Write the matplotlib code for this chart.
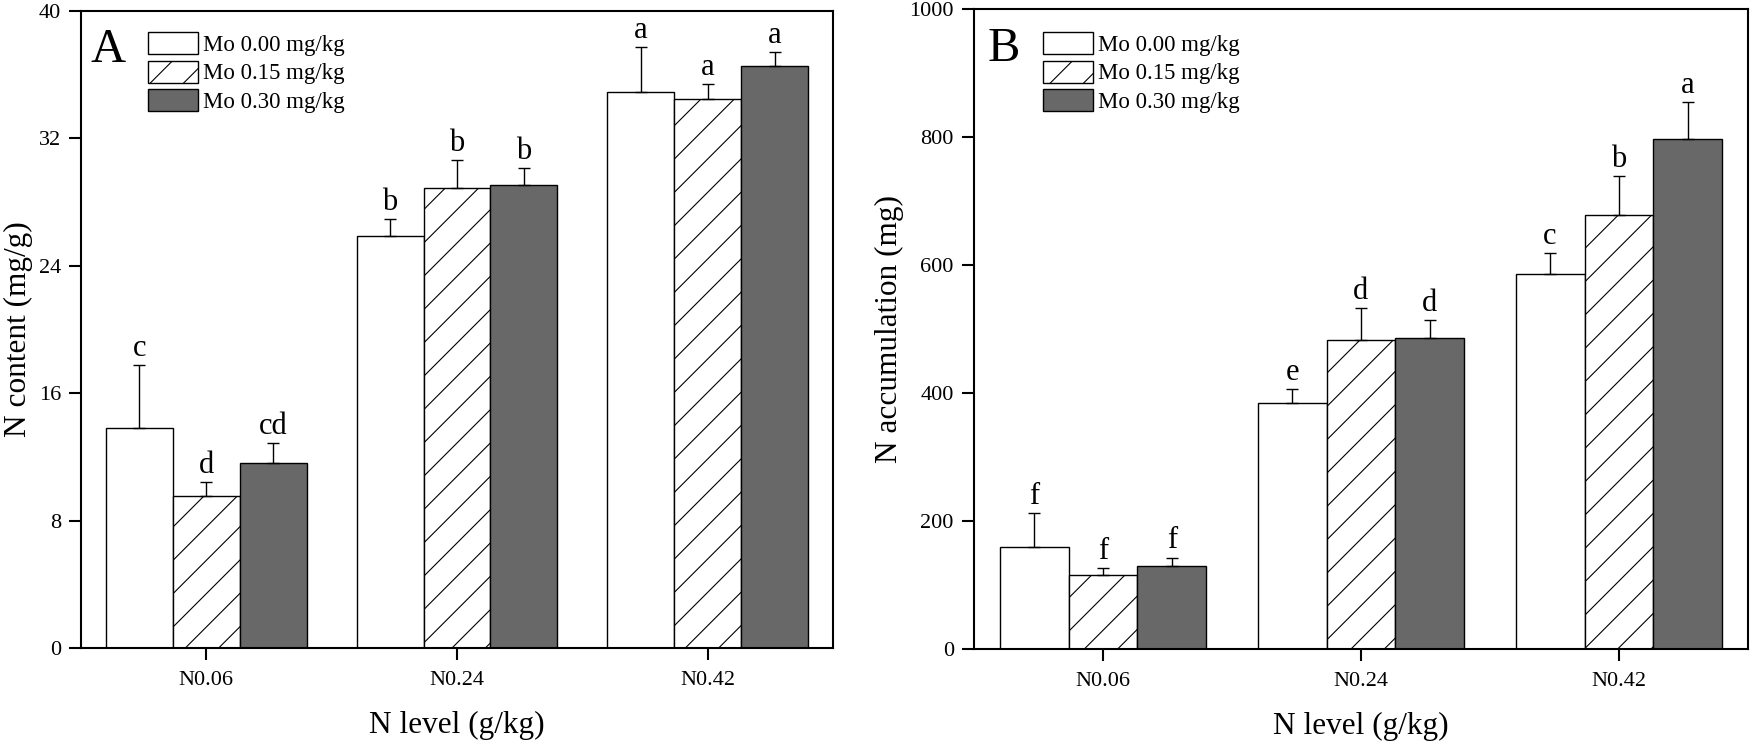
import matplotlib
matplotlib.use("Agg")
import matplotlib.pyplot as plt
import numpy as np

plt.rcParams['font.family'] = ['Liberation Serif', 'DejaVu Serif']
plt.rcParams['hatch.linewidth'] = 0.8
plt.rcParams['mathtext.fontset'] = 'stix'

categories = ["N0.06", "N0.24", "N0.42"]
series = ["Mo 0.00 mg/kg", "Mo 0.15 mg/kg", "Mo 0.30 mg/kg"]

# Panel A: N content (mg/g)
a_mo000 = [13.8, 25.9, 34.9]
a_mo015 = [9.55, 28.9, 34.45]
a_mo030 = [11.6, 29.1, 36.55]
a_err000 = [4.0, 1.05, 2.85]
a_err015 = [0.9, 1.75, 0.95]
a_err030 = [1.3, 1.05, 0.9]
a_letters000 = ["c", "b", "a"]
a_letters015 = ["d", "b", "a"]
a_letters030 = ["cd", "b", "a"]

# Panel B: N accumulation (mg)
b_mo000 = [159, 384, 586]
b_mo015 = [115, 483, 679]
b_mo030 = [129, 486, 798]
b_err000 = [53, 23, 33]
b_err015 = [11, 50, 61]
b_err030 = [14, 28, 57]
b_letters000 = ["f", "e", "c"]
b_letters015 = ["f", "d", "b"]
b_letters030 = ["f", "d", "a"]

fig = plt.figure(figsize=(17.51, 7.41), dpi=100)
axA = fig.add_axes([81/1751, 1-648/741, (833-81)/1751, (648-11)/741])
axB = fig.add_axes([974/1751, 1-649/741, (1748-974)/1751, (649-9.3)/741])

styles = [
    dict(facecolor="white", hatch=None),
    dict(facecolor="white", hatch="/"),
    dict(facecolor="#686868", hatch=None),
]

def draw(ax, vals, errs, letters, ylim, yticks, ylabel, panel, leg_anchor, letter_pos):
    x = np.arange(len(categories))
    w = 0.267
    handles = []
    for i, (v, e, lt) in enumerate(zip(vals, errs, letters)):
        pos = x + (i - 1) * w
        bars = ax.bar(pos, v, width=w, edgecolor="black", linewidth=1.0,
                      label=series[i], zorder=2, **styles[i])
        handles.append(bars)
        ax.errorbar(pos, v, yerr=[np.zeros(len(v)), e], fmt="none",
                    ecolor="black", elinewidth=1.0, capsize=4.5, capthick=1.0, zorder=3)
        for p, vv, ee, ll in zip(pos, v, e, lt):
            ax.annotate(ll, (p, vv + ee), xytext=(0, 6.5), textcoords="offset points",
                        ha="center", va="baseline", fontsize=22)
    ax.set_xlim(-0.5, 2.5)
    ax.set_ylim(*ylim)
    ax.set_yticks(yticks)
    ax.set_xticks(x)
    ax.set_xticklabels(categories)
    ax.tick_params(direction="out", length=8.5, width=1.5, labelsize=16, pad=6)
    ax.tick_params(axis="x", pad=8)
    for s in ax.spines.values():
        s.set_linewidth(1.5)
    ax.set_xlabel("N level (g/kg)", fontsize=22.5, labelpad=15)
    ax.set_ylabel(ylabel, fontsize=22.5, labelpad=4)
    ax.text(letter_pos[0], letter_pos[1], panel, transform=ax.transAxes,
            fontsize=35, ha="left", va="baseline")
    ax.legend(handles=handles, loc="upper left", bbox_to_anchor=leg_anchor,
              frameon=False, fontsize=16.5, borderpad=0, borderaxespad=0,
              handlelength=2.2, handleheight=1.12, labelspacing=0.2,
              handletextpad=0.2)

draw(axA, [a_mo000, a_mo015, a_mo030], [a_err000, a_err015, a_err030],
     [a_letters000, a_letters015, a_letters030], (0, 40), [0, 8, 16, 24, 32, 40],
     "N content (mg/g)", "A", (0.0887, 0.967), (0.012, 0.92))
draw(axB, [b_mo000, b_mo015, b_mo030], [b_err000, b_err015, b_err030],
     [b_letters000, b_letters015, b_letters030], (0, 1000), [0, 200, 400, 600, 800, 1000],
     "N accumulation (mg)", "B", (0.0888, 0.9645), (0.018, 0.919))

fig.savefig("out.png", dpi=100)
